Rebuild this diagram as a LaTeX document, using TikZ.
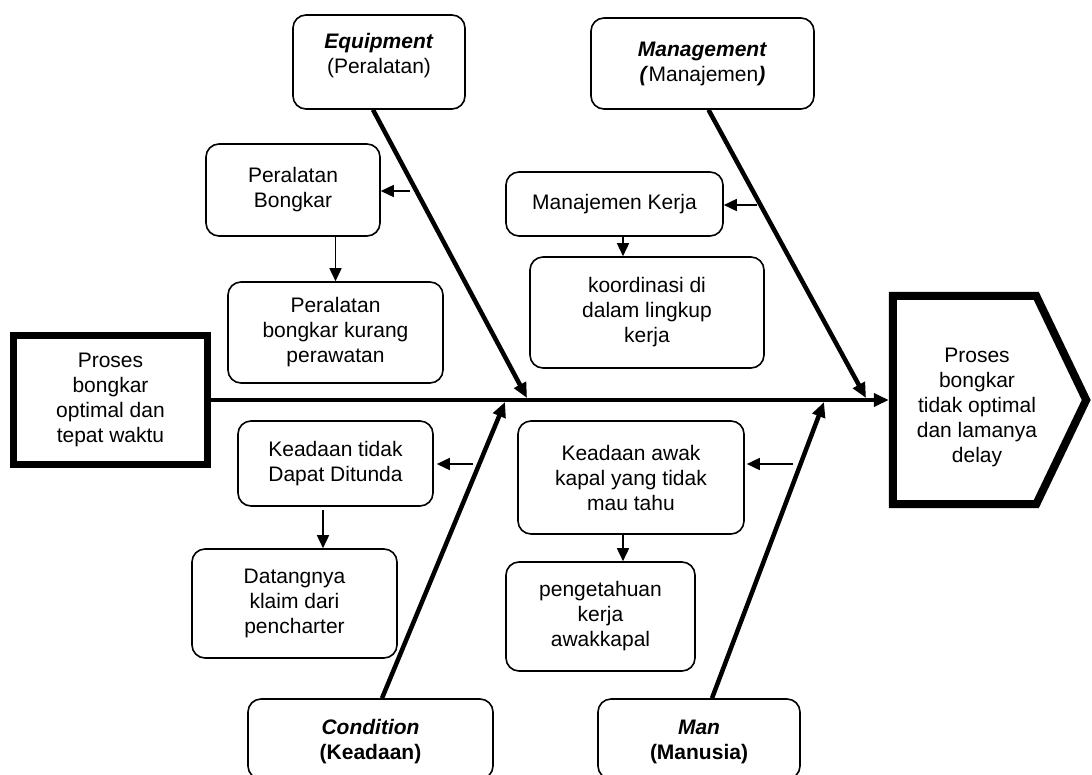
\documentclass[tikz,border=0pt]{standalone}
\usepackage{fontspec}
\setmainfont{Liberation Sans}
\usetikzlibrary{arrows.meta,calc}
\begin{document}
\begin{tikzpicture}[x=1pt,y=-1pt,
  every node/.style={font=\fontsize{21}{25}\selectfont, align=center, inner sep=0pt},
  box/.style={draw, line width=1.6pt, rounded corners=13pt},
  thickbox/.style={draw, line width=7pt},
  bone/.style={line width=4.5pt, -{Triangle[length=15pt,width=13pt]}},
  twig/.style={line width=1.6pt, -{Triangle[length=13pt,width=12pt]}},
]
\useasboundingbox (0,0) rectangle (1092,774);

% category boxes
\node[box, minimum width=172pt, minimum height=94pt] (eq) at (379,62) {};
\node (eqx) at (379,56) {\textbf{\textit{Equipment}}\\(Peralatan)};
\node[box, minimum width=223pt, minimum height=91pt] (mg) at (702.5,63.5)
  {\textbf{\textit{Management}}\\\textbf{\textit{(}}Manajemen\textbf{\textit{)}}};
\node[box, minimum width=245pt, minimum height=80pt] (cd) at (370.5,739) {};
\node (cdx) at (370.5,741.5) {\textbf{\textit{Condition}}\\\textbf{(Keadaan)}};
\node[box, minimum width=202pt, minimum height=80pt] (mn) at (699,739) {};
\node (mnx) at (699,741.5) {\textbf{\textit{Man}}\\\textbf{(Manusia)}};

% cause boxes
\node[box, minimum width=174pt, minimum height=92pt] (pb) at (293,190)
  {Peralatan\\Bongkar};
\node[box, minimum width=215pt, minimum height=101pt] (kp) at (335.5,332.5)
  {Peralatan\\bongkar kurang\\perawatan};
\node[box, minimum width=217pt, minimum height=64pt] (mk) at (614.5,204)
  {Manajemen Kerja};
\node[box, minimum width=234pt, minimum height=111pt] (ko) at (647,312.5)
  {koordinasi di\\dalam lingkup\\kerja};
\node[box, minimum width=195pt, minimum height=85pt] (kt) at (335.5,463.5)
  {Keadaan tidak\\Dapat Ditunda};
\node[box, minimum width=205pt, minimum height=109pt] (dt) at (294.5,603.5)
  {Datangnya\\klaim dari\\pencharter};
\node[box, minimum width=226pt, minimum height=113pt] (ka) at (631,477.5)
  {Keadaan awak\\kapal yang tidak\\mau tahu};
\node[box, minimum width=189pt, minimum height=109pt] (pg) at (600.5,616.5)
  {pengetahuan\\kerja\\awakkapal};

% start and result
\node[thickbox, minimum width=194pt, minimum height=129pt] (lb) at (110.5,400)
  {Proses\\bongkar\\optimal dan\\tepat waktu};
\node[minimum width=193pt, minimum height=208pt] (pt) at (989.5,400) {};
\draw[line width=8pt] (pt.north west) -- ($(pt.north east)+(-50,0)$) -- (pt.east)
  -- ($(pt.south east)+(-50,0)$) -- (pt.south west) -- cycle;
\node (ptx) at (977,407) {Proses\\bongkar\\tidak optimal\\dan lamanya\\delay};

% spine
\draw[bone, shorten >=4pt] (lb.east) -- (pt.west);

% bones
\coordinate (eqt) at (527,398);
\coordinate (mgt) at (866,398);
\coordinate (cdt) at (505,402);
\coordinate (mnt) at (824,402);
\draw[bone] ($(eq.south)+(-6,0)$) -- (eqt);
\draw[bone] ($(mg.south)+(6,0)$) -- (mgt);
\draw[bone] ($(cd.north)+(11.5,0)$) -- (cdt);
\draw[bone] ($(mn.north)+(13,0)$) -- (mnt);

% twigs from bones
\coordinate (ea) at (410,191);
\coordinate (ma) at (757,205);
\coordinate (ca) at (473,464);
\coordinate (na) at (793,464);
\draw[twig] (ea) -- (pb.east |- ea);
\draw[twig] (ma) -- (mk.east |- ma);
\draw[twig, shorten >=3pt] (ca) -- (kt.east |- ca);
\draw[twig, shorten >=2pt] (na) -- (ka.east |- na);

% down arrows
\coordinate (dx) at (623,0);
\coordinate (dy) at (323,0);
\draw[twig] (kp.north |- pb.south) -- (kp.north);
\draw[twig] (dx |- mk.south) -- (dx |- ko.north);
\draw[twig, shorten <=3pt] (dy |- kt.south) -- (dy |- dt.north);
\draw[twig] (dx |- ka.south) -- (dx |- pg.north);
\end{tikzpicture}
\end{document}
